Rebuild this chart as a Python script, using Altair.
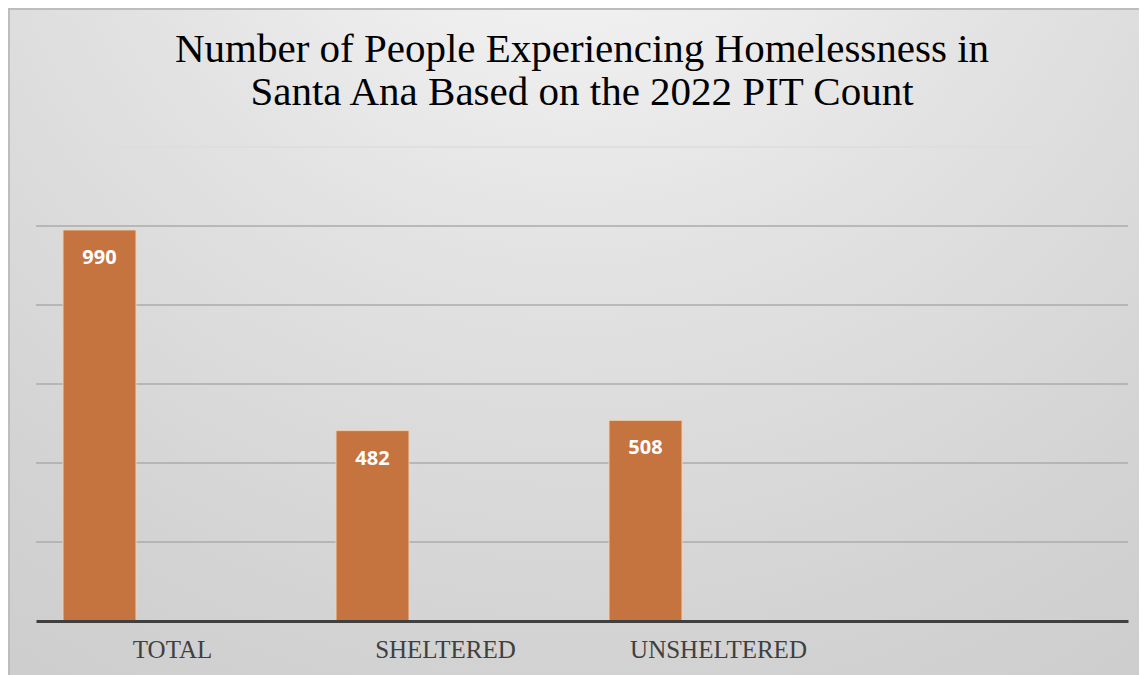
import altair as alt
import pandas as pd

categories = ["TOTAL", "SHELTERED", "UNSHELTERED"]
values = [990, 482, 508]
slots = ["TOTAL", "SHELTERED", "UNSHELTERED", "EMPTY"]
series = ["s1", "s2", "s3"]
grid_values = [200, 400, 600, 800, 1000, 1200]
title_lines = ["Number of People Experiencing Homelessness in",
               "Santa Ana Based on the 2022 PIT Count"]

df = pd.DataFrame({"cat": categories, "val": values, "series": ["s1"] * 3})
gdf = pd.DataFrame({"v": grid_values})

W, H = 1092, 474
PL, PT, PR, PB = 28, 139, 11, 54

bg_grad = alt.RadialGradient(
    gradient="radial",
    x1=0.5, y1=0.0, r1=0.0,
    x2=0.5, y2=0.0, r2=1.1,
    stops=[
        alt.GradientStop(color="#ffffff", offset=0.0),
        alt.GradientStop(color="#f2f2f2", offset=0.15),
        alt.GradientStop(color="#e2e2e2", offset=0.4),
        alt.GradientStop(color="#d3d3d3", offset=0.7),
        alt.GradientStop(color="#c8c8c8", offset=1.0),
    ],
)

bg = alt.Chart(pd.DataFrame({"d": [0]})).mark_rect(
    fill=bg_grad, stroke="#bdbdbd", strokeWidth=2
).encode(
    x=alt.value(-PL + 1), x2=alt.value(W + PR + 2),
    y=alt.value(-PT + 1), y2=alt.value(H + PB + 2),
)

xscale = alt.Scale(domain=slots, paddingInner=0, paddingOuter=0)
xoff_scale = alt.Scale(domain=series, paddingInner=0, paddingOuter=0.37)
yscale = alt.Scale(domain=[0, 1200], nice=False)

grid = alt.Chart(gdf).mark_rule(strokeWidth=1.5).encode(
    y=alt.Y("v:Q", scale=yscale, axis=None),
    color=alt.condition("datum.v >= 1200", alt.value("#dcdcdc"),
                        alt.value("#ababab")),
)

base = alt.Chart(df).encode(
    x=alt.X("cat:N", scale=xscale, sort=slots, title=None,
            axis=alt.Axis(
                labelExpr="datum.value == 'EMPTY' ? '' : datum.value",
                labelFont="Liberation Serif", labelFontSize=25,
                labelColor="#404040", labelAngle=0, labelPadding=16,
                ticks=False, domainColor="#404040", domainWidth=3,
                grid=False, zindex=1)),
    xOffset=alt.XOffset("series:N", scale=xoff_scale),
    y=alt.Y("val:Q", scale=yscale, title=None, axis=None),
)

bars = base.mark_bar(color="#c5733f", stroke="#f2cfb2", strokeWidth=1)
labels = base.mark_text(
    dy=28, baseline="middle", align="center", color="white",
    font="Open Sans", fontWeight="bold", fontSize=20
).encode(text="val:Q")

chart = alt.layer(bg, grid, bars, labels).properties(
    width=W, height=H,
    title=alt.TitleParams(
        text=title_lines, anchor="middle", font="Liberation Serif",
        fontSize=41, fontWeight="normal", color="#000000",
        lineHeight=43, offset=0, dy=147, baseline="bottom", zindex=1,
    ),
    autosize=alt.AutoSizeParams(type="none"),
    padding={"left": PL, "top": PT, "right": PR, "bottom": PB},
).configure_view(stroke=None).configure(background="#d0d0d0")

chart.save("out.html", embed_options={"renderer": "svg", "actions": False})
